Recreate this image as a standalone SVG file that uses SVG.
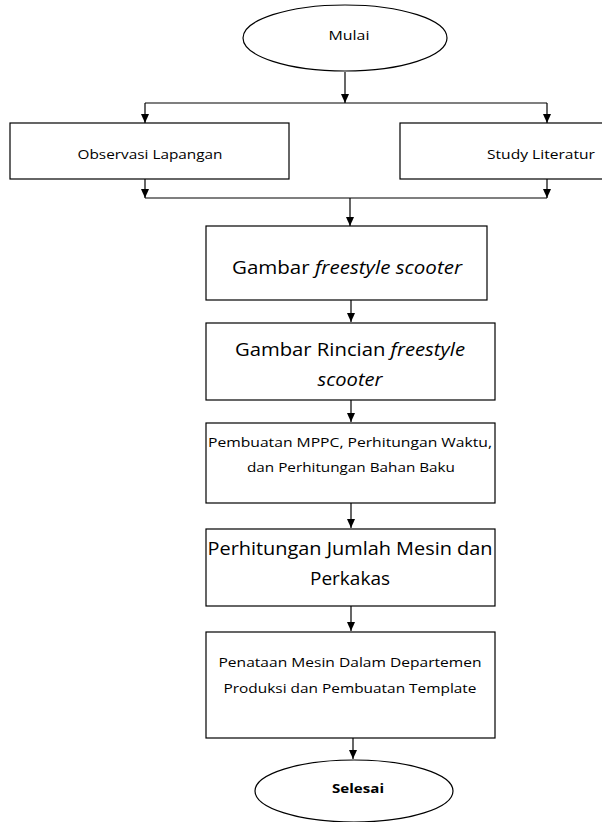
<svg xmlns="http://www.w3.org/2000/svg" width="602" height="822" viewBox="0 0 602 822">
<style>
.s{fill:#fff;stroke:#000;stroke-width:1.2}
.c{fill:none;stroke:#000;stroke-width:1.2}
.t{font-family:"Open Sans","Liberation Sans",sans-serif;font-size:13px;fill:#000;text-anchor:middle}
.b{font-family:"Open Sans","Liberation Sans",sans-serif;font-size:18px;fill:#000;text-anchor:middle}
.i{font-style:italic}
</style>
<defs>
<marker id="a" markerUnits="userSpaceOnUse" markerWidth="9" markerHeight="8" refX="9" refY="4" orient="auto" viewBox="0 0 9 8">
<path d="M0,0 L9,4 L0,8 Z" fill="#000"/>
</marker>
</defs>
<g id="connectors">
<path class="c" d="M345,72 V103" marker-end="url(#a)"/>
<path class="c" d="M145,103 H547"/>
<path class="c" d="M145,103 V123" marker-end="url(#a)"/>
<path class="c" d="M547,103 V123" marker-end="url(#a)"/>
<path class="c" d="M145,179 V198" marker-end="url(#a)"/>
<path class="c" d="M547,179 V198" marker-end="url(#a)"/>
<path class="c" d="M145,198 H547"/>
<path class="c" d="M350,198 V226" marker-end="url(#a)"/>
<path class="c" d="M351,300 V322" marker-end="url(#a)"/>
<path class="c" d="M351,400 V422" marker-end="url(#a)"/>
<path class="c" d="M351,503 V528" marker-end="url(#a)"/>
<path class="c" d="M351,606 V631" marker-end="url(#a)"/>
<path class="c" d="M353,738 V759" marker-end="url(#a)"/>
</g>
<g id="mulai">
<ellipse class="s" cx="345" cy="38" rx="102" ry="33"/>
<text class="t" x="349" y="40" textLength="41" lengthAdjust="spacingAndGlyphs">Mulai</text>
</g>
<g id="observasi">
<rect class="s" x="10" y="123" width="279" height="56"/>
<text class="t" x="150" y="159" textLength="145" lengthAdjust="spacingAndGlyphs">Observasi Lapangan</text>
</g>
<g id="study">
<rect class="s" x="400" y="123" width="215" height="56"/>
<text class="t" x="541" y="159" textLength="108" lengthAdjust="spacingAndGlyphs">Study Literatur</text>
</g>
<g id="gambar">
<rect class="s" x="206" y="226" width="281" height="74"/>
<text class="b" x="347" y="274" textLength="230" lengthAdjust="spacingAndGlyphs">Gambar <tspan class="i">freestyle scooter</tspan></text>
</g>
<g id="rincian">
<rect class="s" x="206" y="323" width="289" height="77"/>
<text class="b" x="350" y="356" textLength="230" lengthAdjust="spacingAndGlyphs">Gambar Rincian <tspan class="i">freestyle</tspan></text>
<text class="b i" x="350" y="386" textLength="65" lengthAdjust="spacingAndGlyphs">scooter</text>
</g>
<g id="mppc">
<rect class="s" x="206" y="423" width="289" height="80"/>
<text class="t" x="350" y="447" textLength="284" lengthAdjust="spacingAndGlyphs">Pembuatan MPPC, Perhitungan Waktu,</text>
<text class="t" x="351" y="472" textLength="208" lengthAdjust="spacingAndGlyphs">dan Perhitungan Bahan Baku</text>
</g>
<g id="jumlah">
<rect class="s" x="206" y="529" width="289" height="77"/>
<text class="b" x="350" y="555" textLength="285" lengthAdjust="spacingAndGlyphs">Perhitungan Jumlah Mesin dan</text>
<text class="b" x="350" y="585" textLength="80" lengthAdjust="spacingAndGlyphs">Perkakas</text>
</g>
<g id="penataan">
<rect class="s" x="206" y="632" width="289" height="106"/>
<text class="t" x="350" y="667" textLength="263" lengthAdjust="spacingAndGlyphs">Penataan Mesin Dalam Departemen</text>
<text class="t" x="350" y="693" textLength="253" lengthAdjust="spacingAndGlyphs">Produksi dan Pembuatan Template</text>
</g>
<g id="selesai">
<ellipse class="s" cx="354" cy="791" rx="99" ry="31"/>
<text class="t" x="358" y="793" font-weight="bold" textLength="52" lengthAdjust="spacingAndGlyphs">Selesai</text>
</g>
</svg>
